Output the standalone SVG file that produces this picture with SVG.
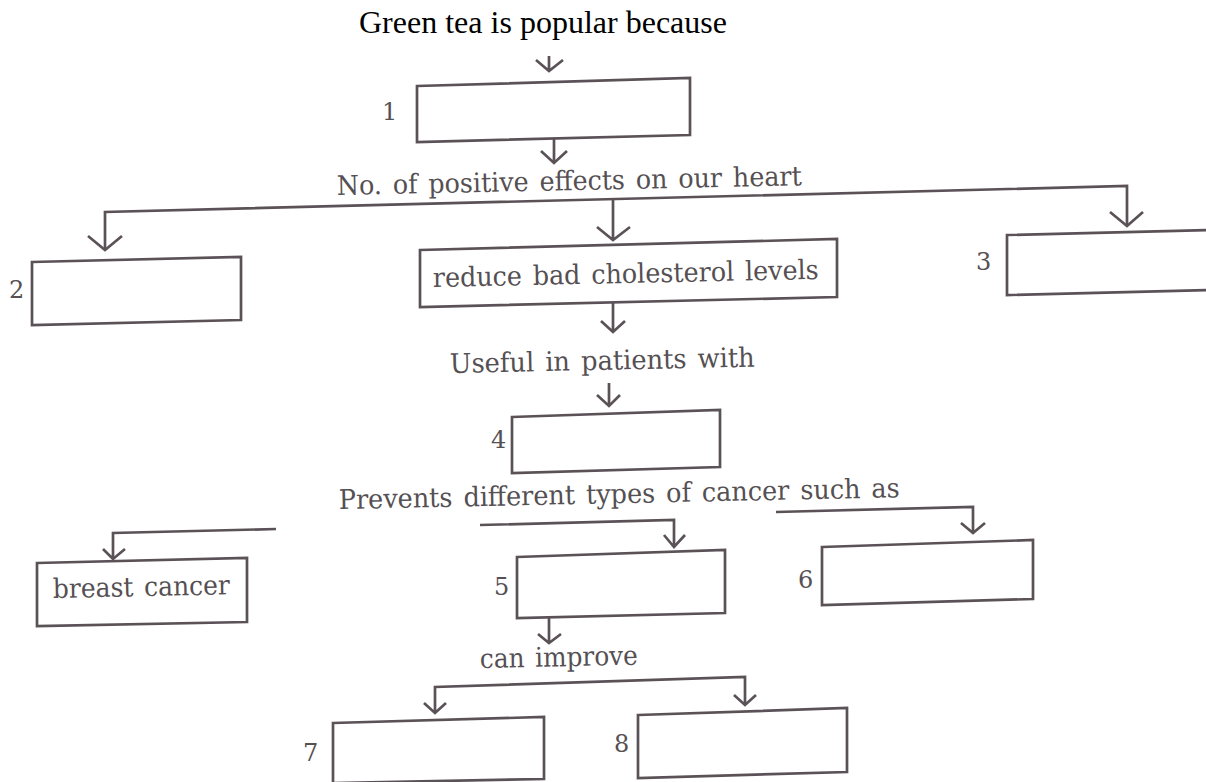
<svg xmlns="http://www.w3.org/2000/svg" width="1206" height="782" viewBox="0 0 1206 782">
<style>
.box{fill:none;stroke:#5a5257;stroke-width:2.7;stroke-linejoin:miter}
.ln{fill:none;stroke:#5a5257;stroke-width:2.7;stroke-linejoin:miter;stroke-linecap:butt}
.t{font-family:"DejaVu Serif",serif;font-size:27px;fill:#555053;word-spacing:3px}
.n{font-family:"DejaVu Serif",serif;font-size:24px;fill:#555053}
.title{font-family:"Liberation Serif",serif;font-size:32px;fill:#000}
</style>
<rect width="1206" height="782" fill="#ffffff"/>
<text class="title" x="359" y="33" textLength="368" lengthAdjust="spacingAndGlyphs">Green tea is popular because</text>
<g id="connectors">
<path class="ln" d="M549,56 L549,70 M536,60 L549,71 L563,60"/>
<path class="ln" d="M554,138 L554,163 M541,151 L554,163 L567,151"/>
<path class="ln" d="M105,250 L105,212 L1127,186 L1127,226"/>
<path class="ln" d="M88,236 L105,250 L122,236"/>
<path class="ln" d="M613,199 L613,240 M597,227 L613,240 L630,227"/>
<path class="ln" d="M1110,212 L1127,226 L1143,212"/>
<path class="ln" d="M613,303 L613,332 M601,321 L613,332 L625,321"/>
<path class="ln" d="M609,383 L609,406 M597,395 L609,406 L620,395"/>
<path class="ln" d="M276,529 L113,533 L113,559 M103,549 L113,559 L125,549"/>
<path class="ln" d="M480,525 L674,520 L674,547 M664,535 L674,547 L685,535"/>
<path class="ln" d="M776,512 L973,507 L973,533 M961,523 L973,533 L985,523"/>
<path class="ln" d="M549,618 L549,643 M538,634 L549,643 L561,634"/>
<path class="ln" d="M435,713 L435,687 L745,677 L745,705 M424,703 L435,713 L446,703 M734,695 L745,705 L756,695"/>
</g>
<text class="t" x="337" y="195" textLength="465" lengthAdjust="spacingAndGlyphs" transform="rotate(-1.2 337 195)">No. of positive effects on our heart</text>
<text class="t" x="450" y="373" textLength="305" lengthAdjust="spacingAndGlyphs" transform="rotate(-1.2 450 373)">Useful in patients with</text>
<text class="t" x="339" y="509" textLength="561" lengthAdjust="spacingAndGlyphs" transform="rotate(-1.2 339 509)">Prevents different types of cancer such as</text>
<text class="t" x="480" y="668" textLength="158" lengthAdjust="spacingAndGlyphs" transform="rotate(-1.2 480 668)">can improve</text>
<g id="node1">
<polygon class="box" points="417,86 690,78 690,135 417,142"/>
<text class="n" x="382" y="120">1</text>
</g>
<g id="node2">
<polygon class="box" points="32,262 241,257 241,320 32,325"/>
<text class="n" x="9" y="298">2</text>
</g>
<g id="node-reduce">
<polygon class="box" points="420,250 837,239 837,297 420,307"/>
<text class="t" x="433" y="287" textLength="386" lengthAdjust="spacingAndGlyphs" transform="rotate(-1.2 433 287)">reduce bad cholesterol levels</text>
</g>
<g id="node3">
<polygon class="box" points="1007,235 1215,230 1215,290 1007,295"/>
<text class="n" x="976" y="270">3</text>
</g>
<g id="node4">
<polygon class="box" points="512,417 720,410 720,467 512,473"/>
<text class="n" x="491" y="448">4</text>
</g>
<g id="node-breast">
<polygon class="box" points="37,563 247,558 247,622 37,626"/>
<text class="t" x="53" y="598" textLength="177" lengthAdjust="spacingAndGlyphs" transform="rotate(-1.2 53 598)">breast cancer</text>
</g>
<g id="node5">
<polygon class="box" points="517,557 725,550 725,613 517,618"/>
<text class="n" x="494" y="595">5</text>
</g>
<g id="node6">
<polygon class="box" points="822,547 1033,540 1033,599 822,605"/>
<text class="n" x="798" y="588">6</text>
</g>
<g id="node7">
<polygon class="box" points="333,723 544,717 544,779 333,783"/>
<text class="n" x="303" y="761">7</text>
</g>
<g id="node8">
<polygon class="box" points="638,715 847,708 847,772 638,778"/>
<text class="n" x="614" y="752">8</text>
</g>
</svg>
